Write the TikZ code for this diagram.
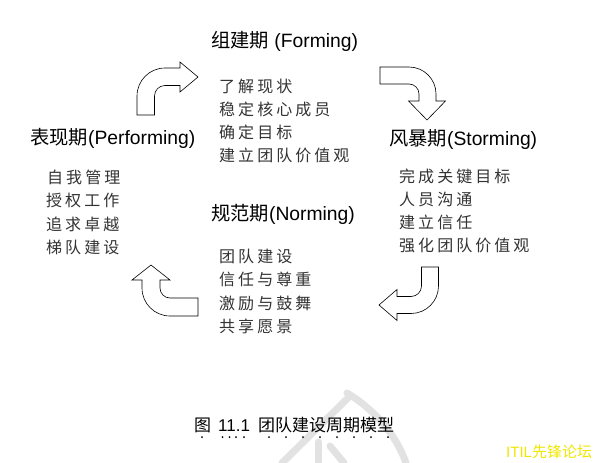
\documentclass[tikz,border=0pt]{standalone}
\usepackage{fontspec}
\setmainfont{Liberation Sans}
\newfontfamily\cjk{Noto Sans CJK SC}
\newfontfamily\cjkls[LetterSpace=19]{Noto Sans CJK SC}
\definecolor{wm}{RGB}{226,226,226}
\definecolor{itil}{RGB}{240,232,0}
\tikzset{
  phase/.style={anchor=west, inner sep=0pt, font=\fontsize{19.3}{19.3}\selectfont},
  item/.style={anchor=west, inner sep=0pt, text=black!80, font=\cjkls\fontsize{16}{16}\selectfont},
  captext/.style={anchor=west, inner sep=0pt, font=\fontsize{17}{17}\selectfont},
  blockarrow/.style={draw=black, fill=white, line width=0.6pt, line join=miter},
  wmark/.style={draw=wm, line width=7pt, line cap=round},
}
\begin{document}
\begin{tikzpicture}[x=1pt,y=1pt,yscale=-1]
\fill[white] (0,0) rectangle (595,463);
\useasboundingbox (0,0) rectangle (595,463);

% watermark
\draw[wmark] (347,393) .. controls (372,408) and (395,432) .. (406,463);
\draw[wmark] (350,396) -- (282,463);
\draw[wmark] (318,442) -- (318,463);
\draw[wmark] (330,446) -- (344,463);

% block arrows
\draw[blockarrow] (137,115) -- (137,96) arc (180:270:28) -- (180,68) -- (180,62) -- (198,77) -- (180,92) -- (180,85.5) -- (165,85.5) arc (270:180:10.5) -- (154.5,115) -- cycle;
\draw[blockarrow] (380,67) -- (409,67) arc (270:360:27) -- (436,101) -- (445.5,101) -- (427,120) -- (408.5,101) -- (419,101) -- (419,94) arc (0:-90:10) -- (380,84) -- cycle;
\draw[blockarrow] (421.5,267) -- (438.5,267) -- (438.5,286) arc (0:90:27.5) -- (397,313.5) -- (397,320.5) -- (379,305) -- (397,289.5) -- (397,296.5) -- (411,296.5) arc (90:0:10.5) -- cycle;
\draw[blockarrow] (198,298) -- (170,298) arc (90:180:10) -- (160,280) -- (170,280) -- (151,265) -- (132,280) -- (142,280) -- (142,288) arc (180:90:28) -- (198,316) -- cycle;

% phase titles
\node[phase] (forming) at (211,41) {{\cjk 组建期} (Forming)};
\node[phase] (performing) at (30,138) {{\cjk 表现期}(Performing)};
\node[phase] (storming) at (389,140) {{\cjk 风暴期}(Storming)};
\node[phase] (norming) at (211,214) {{\cjk 规范期}(Norming)};

% items
\node[item] (f1) at (219,86) {了解现状};
\node[item] (f2) at (219,109) {稳定核心成员};
\node[item] (f3) at (219,132) {确定目标};
\node[item] (f4) at (219,155) {建立团队价值观};

\node[item] (p1) at (47,177) {自我管理};
\node[item] (p2) at (46,200) {授权工作};
\node[item] (p3) at (46,224) {追求卓越};
\node[item] (p4) at (46,247) {梯队建设};

\node[item] (s1) at (399,176) {完成关键目标};
\node[item] (s2) at (399,199) {人员沟通};
\node[item] (s3) at (399,222) {建立信任};
\node[item] (s4) at (399,245) {强化团队价值观};

\node[item] (n1) at (219,256) {团队建设};
\node[item] (n2) at (219,279) {信任与尊重};
\node[item] (n3) at (219,303) {激励与鼓舞};
\node[item] (n4) at (219,326) {共享愿景};

% caption
\node[captext] (cap) at (194,425) {{\cjk 图}\hspace{7pt}11.1\hspace{8pt}{\cjk 团队建设周期模型}};
\foreach \x in {202,222.5,229.5,236,244,269,286,303,320,337,354,371,388}
  \fill (\x,437) circle (1);

% logo text
\node[anchor=west, inner sep=0pt, text=itil, font=\fontsize{15}{15}\selectfont] (itil) at (506,452) {ITIL{\cjk 先锋论坛}};
\end{tikzpicture}
\end{document}
